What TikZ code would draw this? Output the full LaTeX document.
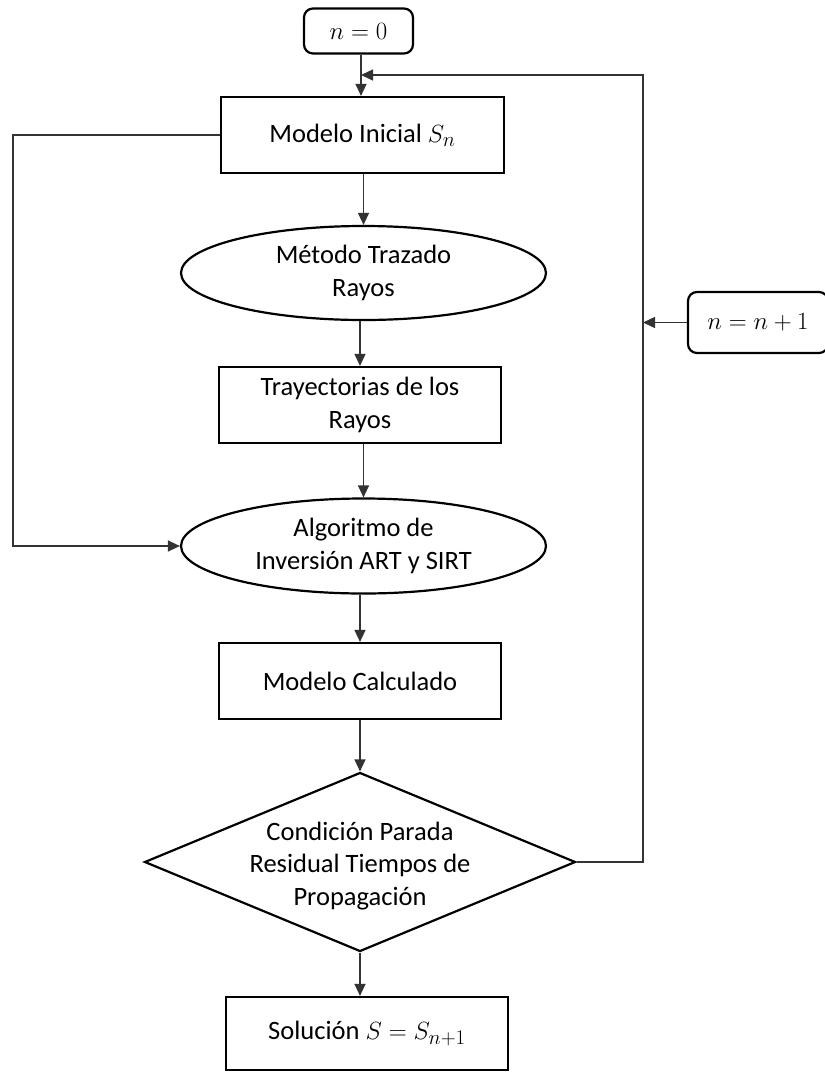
\documentclass[tikz,border=0pt]{standalone}
\usepackage{fontspec}
\setmainfont{Carlito}
\usetikzlibrary{arrows.meta,shapes.geometric,positioning}
\newcommand{\bm}[1]{{\fontsize{30}{32.5}\selectfont$#1$}}
\begin{document}
\begin{tikzpicture}[x=1pt,y=-1pt,
  font=\fontsize{26.5}{32.5}\selectfont,
  box/.style={draw=black,line width=2.2pt,rectangle,align=center,inner sep=0pt},
  rbox/.style={draw=black,line width=2.2pt,rectangle,rounded corners=9pt,inner sep=0pt},
  oval/.style={draw=black,line width=2.2pt,ellipse,align=center,inner sep=0pt},
  conn/.style={draw=black!80,line width=1.4pt},
  arr/.style={conn,-{Triangle[length=12pt,width=11pt]}}
]
\useasboundingbox (0,0) rectangle (825,1072);
% nodes
\node[rbox,minimum width=109pt,minimum height=45pt] (n0) at (358.5,31) {\bm{n=0}};
\node[box,minimum width=283pt,minimum height=76pt] (m1) at (362.5,135) {Modelo Inicial \bm{S_n}};
\node[oval,minimum width=365pt,minimum height=94pt] (e1) at (363.5,273) {Método Trazado\\Rayos};
\node[box,minimum width=282pt,minimum height=76pt] (t1) at (360,405) {Trayectorias de los\\Rayos};
\node[oval,minimum width=365pt,minimum height=95pt] (e2) at (363.5,546) {Algoritmo de\\Inversión ART y SIRT};
\node[box,minimum width=282pt,minimum height=76pt] (m2) at (360,681) {Modelo Calculado};
\node[diamond,draw=black,line width=2.2pt,minimum width=431pt,minimum height=179pt,inner sep=0pt] (d) at (360,862) {};
\node[align=center] (dt) at (360,866) {Condición Parada\\Residual Tiempos de\\Propagación};
\node[box,minimum width=282pt,minimum height=73pt] (s) at (367,1033.5) {Solución \bm{S=S_{n+1}}};
\node[rbox,minimum width=140pt,minimum height=61pt] (nn) at (758,322.5) {\bm{n=n+1}};
% coordinates
\coordinate (j) at (361,75);
\coordinate (rt) at (643,75);
\coordinate (rb) at (643,862);
\coordinate (k) at (643,322.5);
\coordinate (lft) at (13,135);
% connectors
\draw[arr] (n0.south -| j) -- (m1.north -| j);
\draw[arr] (m1.south -| e1.north) -- (e1.north);
\draw[arr] (e1.south -| t1.north) -- (t1.north);
\draw[arr] (t1.south -| e2.north) -- (e2.north);
\draw[arr] (e2.south -| m2.north) -- (m2.north);
\draw[arr] (m2.south) -- (d.north);
\draw[arr] (d.south) -- (d.south |- s.north);
\draw[arr] (d.east) -- (rb) -- (rt) -- (j);
\draw[arr] (nn.west) -- (k);
\draw[arr] (m1.west) -- (lft) |- (e2.west);
\end{tikzpicture}
\end{document}
